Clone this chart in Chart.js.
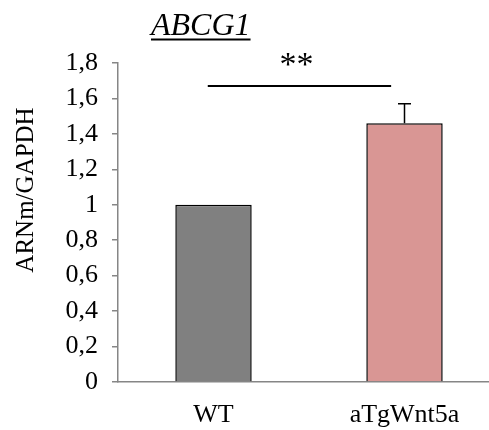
<!DOCTYPE html>
<html>
<head>
<meta charset="utf-8">
<script src="https://cdn.jsdelivr.net/npm/chart.js@4.4.0/dist/chart.umd.min.js"></script>
<style>
  html, body { margin: 0; padding: 0; background: #fff; overflow: hidden; }
  #wrap { width: 489px; height: 430px; overflow: hidden; }
</style>
</head>
<body>
<div id="wrap"><canvas id="geneChart" width="500" height="430"></canvas></div>
<script>
const categories = ['WT', 'aTgWnt5a'];
const expression = [1.0, 1.46];
const errorUp = [0, 0.11];
const barColors = ['#808080', '#D99694'];
const yTickLabels = ['0', '0,2', '0,4', '0,6', '0,8', '1', '1,2', '1,4', '1,6', '1,8'];
const geneName = 'ABCG1';
const yTitle = 'ARNm/GAPDH';
const sigMark = '**';
const sigSpan = [-0.03, 0.93];   // category index units
const sigLevel = 1.67;

const serif = "'Liberation Serif', 'Times New Roman', serif";
const axisGray = '#868686';

// error bars, significance bracket, title and y title
const extras = {
    id: 'extras',
    afterDatasetsDraw(chart) {
        const ctx = chart.ctx;
        const x = chart.scales.x;
        const y = chart.scales.y;
        const meta = chart.getDatasetMeta(0);

        ctx.save();
        ctx.strokeStyle = '#000';
        ctx.lineWidth = 1.5;
        meta.data.forEach((bar, i) => {
            if (!errorUp[i]) return;
            const top = y.getPixelForValue(expression[i] + errorUp[i]);
            ctx.beginPath();
            ctx.moveTo(bar.x, bar.y);
            ctx.lineTo(bar.x, top);
            ctx.moveTo(bar.x - 6.5, top);
            ctx.lineTo(bar.x + 6.5, top);
            ctx.stroke();
        });

        // significance line
        const lineY = y.getPixelForValue(sigLevel);
        const x1 = x.getPixelForValue(sigSpan[0]);
        const x2 = x.getPixelForValue(sigSpan[1]);
        ctx.lineWidth = 2;
        ctx.beginPath();
        ctx.moveTo(x1, lineY);
        ctx.lineTo(x2, lineY);
        ctx.stroke();

        ctx.fillStyle = '#000';
        ctx.textAlign = 'center';
        ctx.textBaseline = 'alphabetic';
        ctx.font = '34px ' + serif;
        ctx.fillText(sigMark, (x1 + x2) / 2 - 3, lineY - 11);

        // gene title, italic underlined
        ctx.font = 'italic 32px ' + serif;
        ctx.textAlign = 'left';
        const tx = 151;
        const tw = ctx.measureText(geneName).width;
        ctx.fillText(geneName, tx, 34.5);
        ctx.lineWidth = 2;
        ctx.beginPath();
        ctx.moveTo(tx, 39.5);
        ctx.lineTo(tx + tw, 39.5);
        ctx.stroke();

        // y axis title
        ctx.font = '25px ' + serif;
        ctx.textAlign = 'center';
        ctx.textBaseline = 'middle';
        ctx.translate(26, 190);
        ctx.rotate(-Math.PI / 2);
        ctx.fillText(yTitle, 0, 0);
        ctx.restore();
    }
};

new Chart(document.getElementById('geneChart'), {
    type: 'bar',
    data: {
        labels: categories,
        datasets: [{
            data: expression,
            backgroundColor: barColors,
            borderColor: '#000',
            borderWidth: 1.5,
            barPercentage: 0.4,
            categoryPercentage: 1
        }]
    },
    options: {
        responsive: false,
        animation: false,
        layout: { padding: { top: 63, right: 0, left: 0, bottom: 0 } },
        plugins: {
            legend: { display: false },
            tooltip: { enabled: false }
        },
        scales: {
            x: {
                grid: { drawOnChartArea: false, drawTicks: false },
                border: { color: axisGray, width: 1.5 },
                ticks: {
                    color: '#000',
                    padding: 18,
                    font: { family: serif, size: 26 }
                },
                afterFit(scale) { scale.height = 48; }
            },
            y: {
                min: 0,
                max: 1.8,
                grid: { drawOnChartArea: false, drawTicks: true, tickLength: 6, color: axisGray, lineWidth: 1.5 },
                border: { color: axisGray, width: 1.5 },
                ticks: {
                    stepSize: 0.2,
                    color: '#000',
                    padding: 14,
                    font: { family: serif, size: 26 },
                    callback: (v, i) => yTickLabels[i]
                },
                afterFit(scale) { scale.width = 118; }
            }
        }
    },
    plugins: [extras]
});
</script>
</body>
</html>
